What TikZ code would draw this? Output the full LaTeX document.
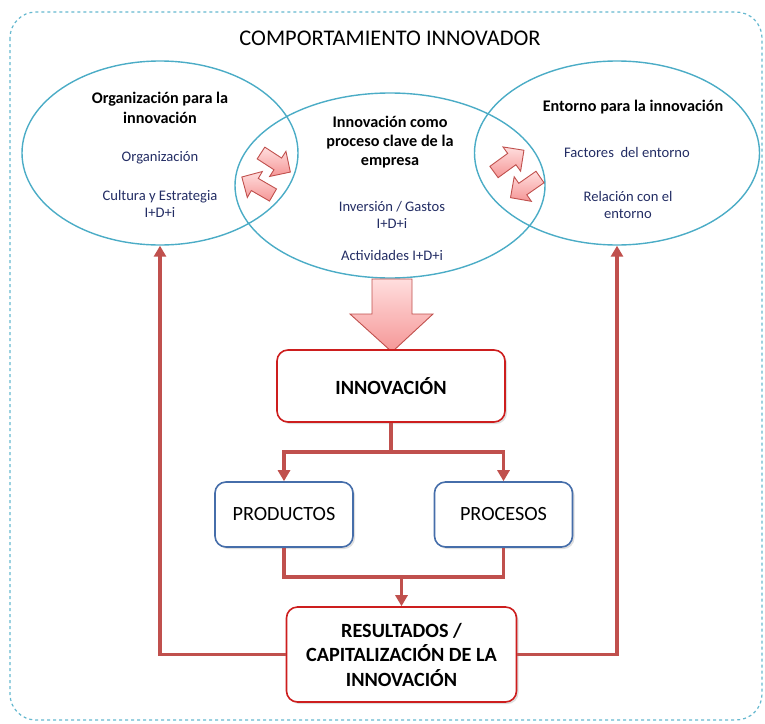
\documentclass[tikz,border=0pt]{standalone}
\usepackage{fontspec}
\setmainfont{Carlito}
\usetikzlibrary{arrows.meta,shadows,shapes.geometric,calc}
\definecolor{ell}{HTML}{4BACC6}
\definecolor{lnk}{HTML}{C0504D}
\definecolor{redb}{RGB}{205,30,30}
\definecolor{blueb}{RGB}{70,110,170}
\definecolor{navy}{RGB}{35,45,100}
\definecolor{pinkL}{RGB}{255,222,222}
\definecolor{pinkD}{RGB}{245,150,150}
\tikzset{
  circ/.style={draw=ell,line width=1.4pt,ellipse,inner sep=0pt},
  head/.style={font=\fontsize{16.2}{19.3}\selectfont\bfseries,align=center,text=black},
  sub/.style={font=\fontsize{14.6}{17.5}\selectfont,align=center,text=navy},
  boxbase/.style={rounded corners=11pt,line width=1.6pt,fill=white,align=center,
    drop shadow={opacity=0.25,shadow xshift=2pt,shadow yshift=-2pt}},
  redbox/.style={boxbase,draw=redb,font=\fontsize{20.2}{24.5}\selectfont\bfseries},
  bluebox/.style={boxbase,draw=blueb,font=\fontsize{20.2}{24}\selectfont},
  conn/.style={draw=lnk,line width=3.5pt},
  tip/.style={-{Triangle[width=12pt,length=11pt]}},
  barrow/.style={draw=lnk,line width=0.9pt,top color=pinkL,bottom color=pinkD,line join=miter}
}
\newcommand\blkarrow[3]{%
  \begin{scope}[shift={#1},rotate=#2]
    \path[barrow] (0,-7) -- ({#3-15},-7) -- ({#3-15},-15) -- (#3,0) -- ({#3-15},15) -- ({#3-15},7) -- (0,7) -- cycle;
  \end{scope}}
\begin{document}
\begin{tikzpicture}[x=1pt,y=1pt]
\useasboundingbox (0,0) rectangle (765,-723);
% outer frame
\draw[dashed,draw=ell!85,line width=1.2pt,rounded corners=26pt] (10,-12) rectangle (762,-720);
\node[font=\fontsize{22.4}{26}\selectfont] (title) at (390,-38) {COMPORTAMIENTO INNOVADOR};
% ellipses
\node[circ,minimum width=276,minimum height=184] (eL) at (160,-153) {};
\node[circ,minimum width=310,minimum height=185] (eM) at (390,-185.5) {};
\node[circ,minimum width=285,minimum height=184] (eR) at (617,-153) {};
% texts
\node[head] (tL) at (160,-108) {Organización para la\\innovación};
\node[sub] (sL1) at (160,-158) {Organización};
\node[sub] (sL2) at (160,-204) {Cultura y Estrategia\\I+D+i};
\node[head] (tM) at (390,-142) {Innovación como\\proceso clave de la\\empresa};
\node[sub] (sM1) at (392,-215) {Inversión / Gastos\\I+D+i};
\node[sub] (sM2) at (392,-255) {Actividades I+D+i};
\node[head] (tR) at (633,-107) {Entorno para la innovación};
\node[sub] (sR1) at (627,-152) {Factores\ \ del entorno};
\node[sub] (sR2) at (628,-205) {Relación con el\\entorno};
% small block arrows
\blkarrow{(261,-153)}{-33}{35}
\blkarrow{(273,-195)}{150}{36}
\blkarrow{(494,-172)}{36}{37}
\blkarrow{(540,-177)}{215}{36}
% big arrow
\path[barrow] (372,-279) -- (412,-279) -- (412,-314) -- (433,-314) -- (392,-352) -- (350,-314) -- (372,-314) -- cycle;
% boxes
\node[redbox,minimum width=228,minimum height=72] (inn) at (391,-386) {INNOVACIÓN};
\node[bluebox,minimum width=138,minimum height=65] (prod) at (284,-514.5) {PRODUCTOS};
\node[bluebox,minimum width=138,minimum height=65] (proc) at (503.5,-514.5) {PROCESOS};
\node[redbox,minimum width=230,minimum height=95] (res) at (401.5,-654.5) {RESULTADOS /\\CAPITALIZACIÓN DE LA\\INNOVACIÓN};
% connectors
\coordinate (j1) at (391,-452);
\coordinate (j2) at (401.5,-577);
\draw[conn] (inn.south) -- (j1);
\draw[conn,tip] (j1) -| (prod.north);
\draw[conn,tip] (j1) -| (proc.north);
\draw[conn] (prod.south) |- (j2) -| (proc.south);
\draw[conn,tip] (j2) -- (res.north);
\draw[conn,tip] (res.west) -| (eL.south);
\draw[conn,tip] (res.east) -| (eR.south);
\end{tikzpicture}
\end{document}
